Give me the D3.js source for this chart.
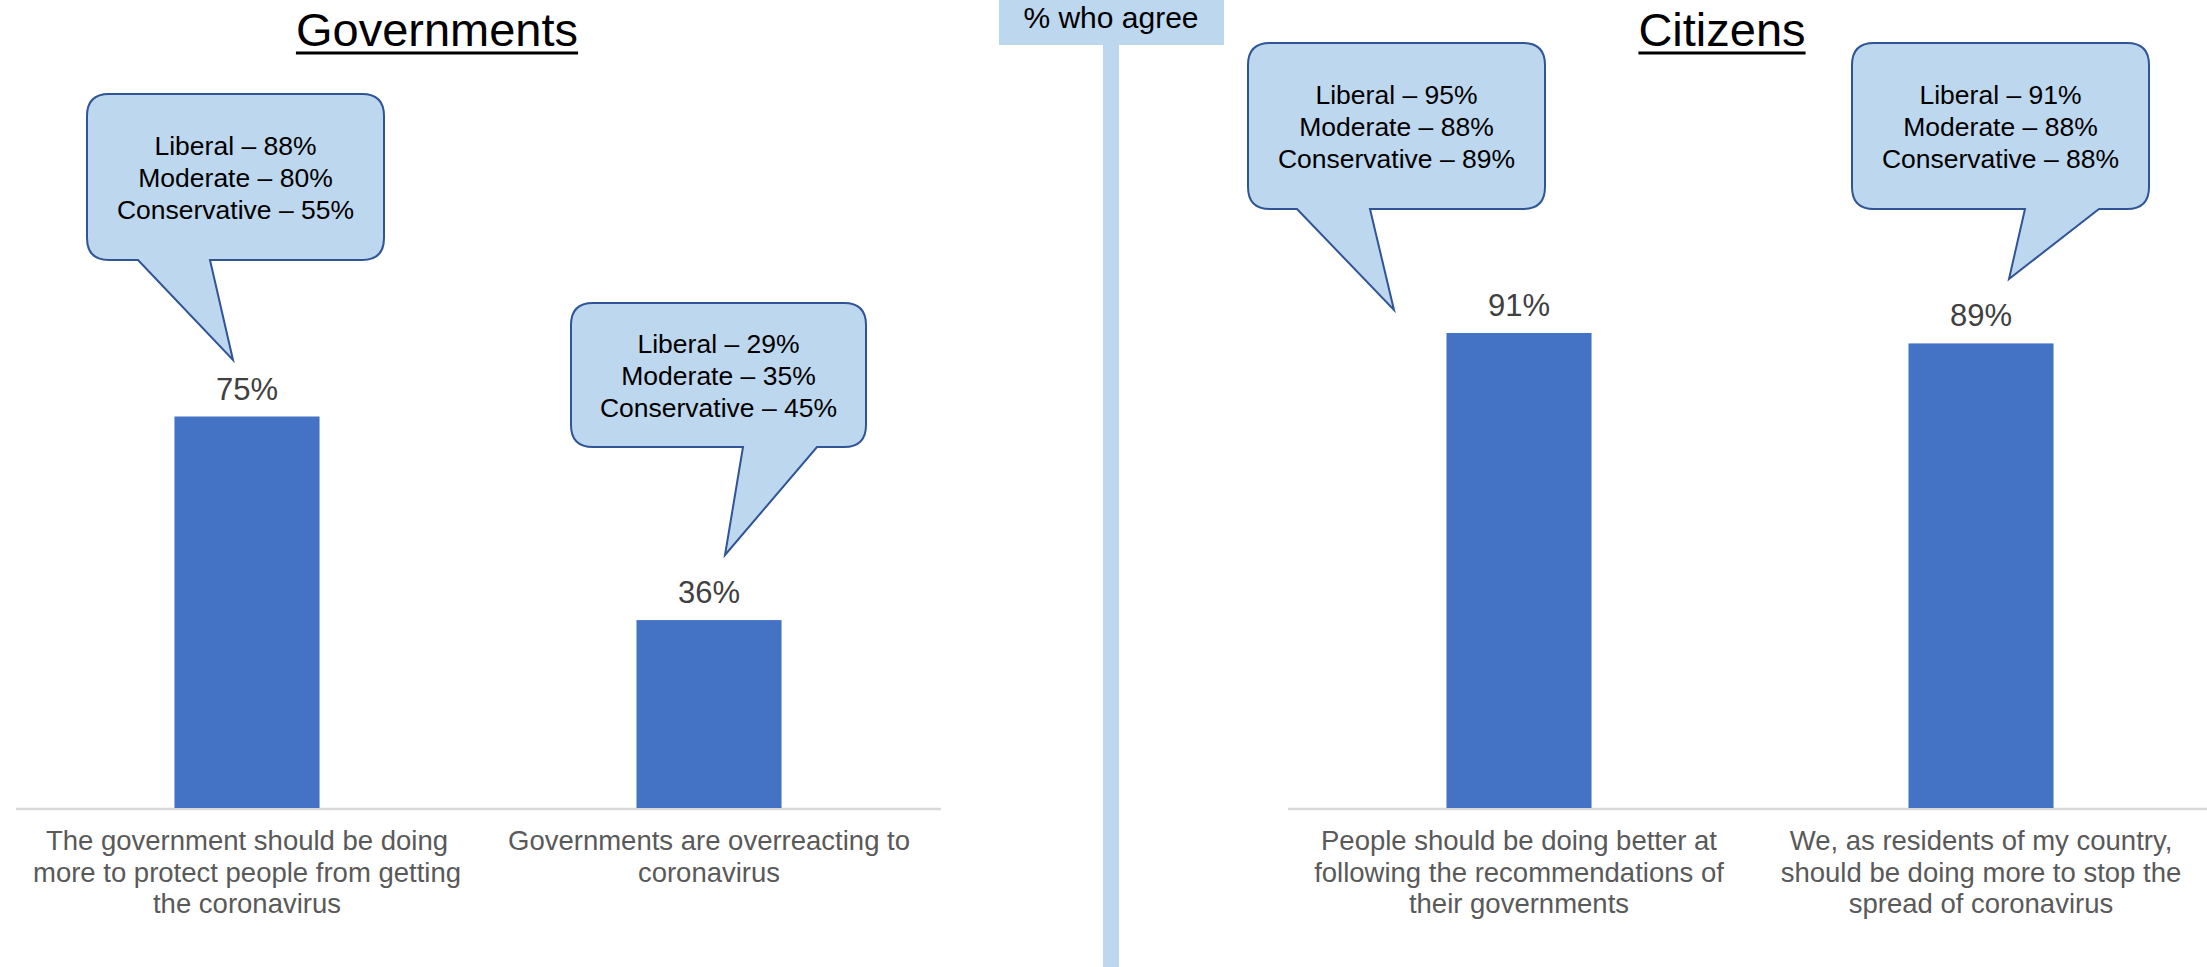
<!DOCTYPE html>
<html>
<head>
<meta charset="utf-8">
<script src="https://cdn.jsdelivr.net/npm/d3@7"></script>
<style>
  body { margin: 0; background: #fff; }
  svg { display: block; font-family: Arial, "Liberation Sans", sans-serif; }
</style>
</head>
<body>
<div id="chart"></div>
<script>
// survey: % who agree, split by political leaning
var groups = ["Liberal", "Moderate", "Conservative"];

var govCategories = [
    ["The government should be doing", "more to protect people from getting", "the coronavirus"],
    ["Governments are overreacting to", "coronavirus"]
];
var govValues = [75, 36];
var govBreakdown = [[88, 80, 55], [29, 35, 45]];

var citCategories = [
    ["People should be doing better at", "following the recommendations of", "their governments"],
    ["We, as residents of my country,", "should be doing more to stop the", "spread of coronavirus"]
];
var citValues = [91, 89];
var citBreakdown = [[95, 88, 89], [91, 88, 88]];

var W = 2207, H = 967;
var BAR = "#4472c4", PALE = "#bdd7ee", EDGE = "#2f5597";

var svg = d3.select("#chart").append("svg")
    .attr("width", W)
    .attr("height", H);

// shared y scale, both panels use the same one
var y = d3.scaleLinear().domain([0, 100]).range([808, 808 - 522]);

// callout placement (hand placed in the original), relative to box centre
var govCallouts = [
    { dx: -11.5, top: 94, h: 166, w: 297, base: [-97.5, -25.5], tipDx: -2.5, tipY: 360 },
    { dx: 9.5, top: 303, h: 144, w: 295, base: [24.5, 98.5], tipDx: 6.5, tipY: 555 }
];
var citCallouts = [
    { dx: -122.5, top: 43, h: 166, w: 297, base: [-99.5, -26.5], tipDx: -2.5, tipY: 310 },
    { dx: 19.5, top: 43, h: 166, w: 297, base: [24.5, 98.5], tipDx: 8.5, tipY: 279 }
];

function calloutPath(c, cx) {
    var x0 = cx - c.w / 2, x1 = cx + c.w / 2, y0 = c.top, y1 = c.top + c.h, r = 22;
    var p = d3.path();
    p.moveTo(x0 + r, y0);
    p.lineTo(x1 - r, y0);
    p.quadraticCurveTo(x1, y0, x1, y0 + r);
    p.lineTo(x1, y1 - r);
    p.quadraticCurveTo(x1, y1, x1 - r, y1);
    p.lineTo(cx + c.base[1], y1);
    p.lineTo(cx + c.tipDx, c.tipY);
    p.lineTo(cx + c.base[0], y1);
    p.lineTo(x0 + r, y1);
    p.quadraticCurveTo(x0, y1, x0, y1 - r);
    p.lineTo(x0, y0 + r);
    p.quadraticCurveTo(x0, y0, x0 + r, y0);
    p.closePath();
    return p.toString();
}

function drawPanel(opts) {
    var g = svg.append("g");
    var x = d3.scaleBand()
        .domain(d3.range(opts.values.length))
        .range(opts.band)
        .paddingInner(0.686)
        .paddingOuter(0.343);

    // title with underline
    var t = g.append("text")
        .attr("x", opts.titleX)
        .attr("y", 46)
        .attr("text-anchor", "middle")
        .style("font-size", "47px")
        .style("fill", "#000")
        .text(opts.title);
    var tw = t.node().getComputedTextLength();
    g.append("line")
        .attr("x1", opts.titleX - tw / 2).attr("x2", opts.titleX + tw / 2)
        .attr("y1", 53).attr("y2", 53)
        .style("stroke", "#000").style("stroke-width", 3);

    // baseline
    g.append("line")
        .attr("x1", opts.axis[0]).attr("x2", opts.axis[1])
        .attr("y1", y(0) + 1).attr("y2", y(0) + 1)
        .style("stroke", "#d9d9d9").style("stroke-width", 2.5);

    g.selectAll("rect.bar")
        .data(opts.values)
        .enter()
        .append("rect")
        .attr("class", "bar")
        .attr("x", function (d, i) { return x(i); })
        .attr("width", x.bandwidth())
        .attr("y", function (d) { return y(d); })
        .attr("height", function (d) { return y(0) - y(d); })
        .style("fill", BAR);

    g.selectAll("text.val")
        .data(opts.values)
        .enter()
        .append("text")
        .attr("class", "val")
        .attr("x", function (d, i) { return x(i) + x.bandwidth() / 2; })
        .attr("y", function (d) { return y(d) - 17; })
        .attr("text-anchor", "middle")
        .style("font-size", "31px")
        .style("fill", "#404040")
        .text(function (d) { return d + "%"; });

    // wrapped category labels under the axis
    opts.categories.forEach(function (lines, i) {
        var lbl = g.append("text")
            .attr("text-anchor", "middle")
            .style("font-size", "27.5px")
            .style("fill", "#595959");
        lines.forEach(function (s, k) {
            lbl.append("tspan")
                .attr("x", x(i) + x.bandwidth() / 2)
                .attr("y", y(0) + 42 + k * 31.5)
                .text(s);
        });
    });

    // speech-bubble callouts with the breakdown
    opts.breakdown.forEach(function (vals, i) {
        var c = opts.callouts[i];
        var cx = x(i) + x.bandwidth() / 2 + c.dx;
        g.append("path")
            .attr("d", calloutPath(c, cx))
            .style("fill", PALE)
            .style("stroke", EDGE)
            .style("stroke-width", 2);
        var mid = c.top + c.h / 2;
        var txt = g.append("text")
            .attr("text-anchor", "middle")
            .style("font-size", "26.5px")
            .style("fill", "#000");
        vals.forEach(function (v, k) {
            txt.append("tspan")
                .attr("x", cx)
                .attr("y", mid + 10 + (k - 1) * 32)
                .text(groups[k] + " \u2013 " + v + "%");
        });
    });
}

drawPanel({
    title: "Governments", titleX: 437,
    band: [16, 940], axis: [16, 941],
    values: govValues, categories: govCategories,
    breakdown: govBreakdown, callouts: govCallouts
});
drawPanel({
    title: "Citizens", titleX: 1722,
    band: [1288, 2212], axis: [1288, 2207],
    values: citValues, categories: citCategories,
    breakdown: citBreakdown, callouts: citCallouts
});

// centre divider and its header box
svg.append("rect")
    .attr("x", 1103).attr("y", 40)
    .attr("width", 16).attr("height", H - 40)
    .style("fill", PALE);
svg.append("rect")
    .attr("x", 999).attr("y", 0)
    .attr("width", 225).attr("height", 45)
    .style("fill", PALE);
svg.append("text")
    .attr("x", 1111).attr("y", 28)
    .attr("text-anchor", "middle")
    .style("font-size", "30px")
    .style("fill", "#000")
    .text("% who agree");
</script>
</body>
</html>
